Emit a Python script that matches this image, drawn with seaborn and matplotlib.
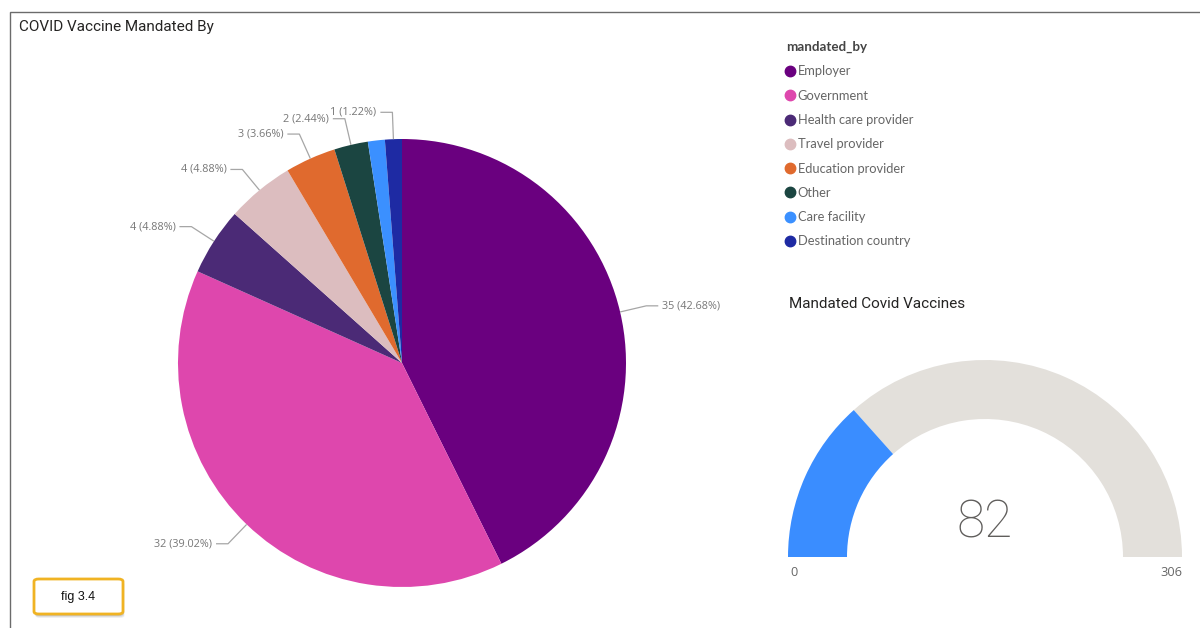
import numpy as np
import matplotlib
matplotlib.use("Agg")
import matplotlib.pyplot as plt
from matplotlib.patches import Wedge, Rectangle, FancyBboxPatch
from matplotlib.lines import Line2D
import seaborn as sns

# ---- data -------------------------------------------------------------
categories = ["Employer", "Government", "Health care provider", "Travel provider",
              "Education provider", "Other", "Care facility", "Destination country"]
counts = [35, 32, 4, 4, 3, 2, 1, 1]
colors = ["#6A007F", "#DE47AD", "#4B2A76", "#DCBDBF",
          "#E06A2E", "#1B4541", "#3B90FF", "#1E2AA3"]
gauge_value = 82
gauge_min = 0
gauge_max = 306

sns.set_theme(style="white")
plt.rcParams["font.family"] = ["Open Sans", "DejaVu Sans"]

W, H = 1200, 628
fig = plt.figure(figsize=(W / 100, H / 100), dpi=100)
fig.patch.set_facecolor("white")


def fx(px):
    return px / W


def fy(py):
    return 1 - py / H


# outer visual frame
fig.patches.append(Rectangle((fx(10), fy(640)), fx(1200), 1, transform=fig.transFigure,
                             fill=False, edgecolor="#6b6b6b", linewidth=1.0))

# ---- pie --------------------------------------------------------------
R_PX = 224
cx, cy = 402, 363
half = 262
ax = fig.add_axes([fx(cx - half), fy(cy + half), 2 * half / W, 2 * half / H])

wedges, _ = ax.pie(counts, colors=colors, startangle=90, counterclock=False,
                   radius=1.0, wedgeprops=dict(linewidth=0))
lim = half / R_PX
ax.set_xlim(-lim, lim)
ax.set_ylim(-lim, lim)
ax.set_aspect("equal")
ax.axis("off")

total = sum(counts)
placed = []
seg = 12 / R_PX
gap = 4 / R_PX
for w, n in zip(wedges, counts):
    mid = np.deg2rad((w.theta1 + w.theta2) / 2)
    ex, ey = 1.12 * np.cos(mid), 1.12 * np.sin(mid)
    # skip a label whose elbow would crowd one already placed
    if any(np.hypot(ex - px, ey - py) < 0.16 for px, py in placed):
        continue
    placed.append((ex, ey))
    sx, sy = 1.0 * np.cos(mid), 1.0 * np.sin(mid)
    side = 1 if ex >= 0 else -1
    hx = ex + side * seg
    ax.plot([sx, ex, hx], [sy, ey, ey], color="#a6a6a6", linewidth=0.9,
            clip_on=False, solid_capstyle="butt")
    ax.text(hx + side * gap, ey, f"{n} ({n / total * 100:.2f}%)",
            ha="left" if side > 0 else "right", va="center",
            fontsize=7.8, color="#777777", clip_on=False)

fig.text(fx(19), fy(27), "COVID Vaccine Mandated By", fontsize=11, color="#252423",
         ha="left", va="center", family=["Roboto", "DejaVu Sans"])

# ---- legend -----------------------------------------------------------
handles = [Line2D([0], [0], marker="o", linestyle="", markersize=7.5,
                  markerfacecolor=c, markeredgecolor=c) for c in colors]
leg = fig.legend(handles, categories, loc="upper left",
                 bbox_to_anchor=(fx(786), fy(41)), frameon=False,
                 title="mandated_by",
                 prop={"family": ["Lato", "DejaVu Sans"], "size": 9.3},
                 labelcolor="#666666",
                 handlelength=0.6, handletextpad=0.3, labelspacing=0.95,
                 borderaxespad=0, borderpad=0.0,
                 title_fontproperties={"family": ["Lato", "DejaVu Sans"],
                                       "weight": "bold", "size": 9.6})
leg.get_title().set_color("#444444")
leg._legend_box.align = "left"

# ---- gauge ------------------------------------------------------------
G_R = 197
g_cx, g_cy = 985, 557
gl, gr, gt, gb = 775, 1195, 340, 600
gax = fig.add_axes([fx(gl), fy(gb), (gr - gl) / W, (gb - gt) / H])
gax.set_xlim(-(g_cx - gl) / G_R, (gr - g_cx) / G_R)
gax.set_ylim(-(gb - g_cy) / G_R, (g_cy - gt) / G_R)
gax.set_aspect("equal")
gax.axis("off")

ring = (197 - 138) / G_R
frac = (gauge_value - gauge_min) / (gauge_max - gauge_min)
split = 180 - 180 * frac
gax.add_patch(Wedge((0, 0), 1, 0, split, width=ring, facecolor="#E3E0DB", linewidth=0))
gax.add_patch(Wedge((0, 0), 1, split, 180, width=ring, facecolor="#3A8DFF", linewidth=0))

gax.text(0, 33 / G_R, f"{gauge_value}", ha="center", va="center", fontsize=37,
         color="#605E5C", family=["Roboto", "DejaVu Sans"], fontweight="light")
gax.text(-1 + 2 / G_R, -16 / G_R, f"{gauge_min}", ha="left", va="center",
         fontsize=9.2, color="#666666")
gax.text(1, -16 / G_R, f"{gauge_max}", ha="right", va="center",
         fontsize=9.2, color="#666666")

fig.text(fx(789), fy(304), "Mandated Covid Vaccines", fontsize=11, color="#252423",
         ha="left", va="center", family=["Roboto", "DejaVu Sans"])

# ---- figure tag -------------------------------------------------------
for off, a in [(3, 0.06), (2, 0.08), (1, 0.1)]:
    fig.patches.append(FancyBboxPatch((fx(34 + off * 0.5), fy(615 + off)), fx(89), 36 / H,
                                      boxstyle="round,pad=0,rounding_size=0.004",
                                      transform=fig.transFigure, facecolor="black",
                                      edgecolor="none", alpha=a))
fig.patches.append(FancyBboxPatch((fx(34), fy(614)), fx(89), 35 / H,
                                  boxstyle="round,pad=0,rounding_size=0.004",
                                  transform=fig.transFigure, facecolor="white",
                                  edgecolor="#F0B323", linewidth=2.0))
fig.text(fx(78), fy(597), "fig 3.4", ha="center", va="center", fontsize=9,
         color="#111111", family=["Liberation Sans", "DejaVu Sans"])

fig.savefig("out.png", dpi=100)
